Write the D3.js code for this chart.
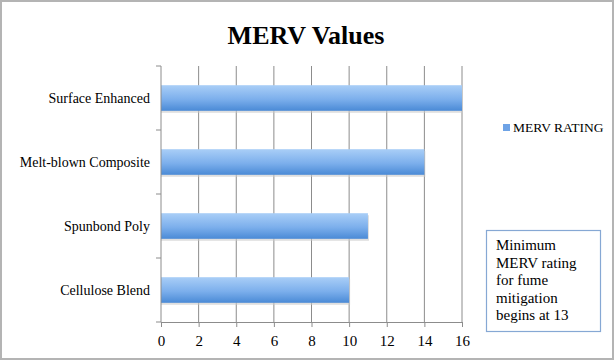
<!DOCTYPE html>
<html>
<head>
<meta charset="utf-8">
<script src="https://cdn.jsdelivr.net/npm/d3@7"></script>
<style>
  body { margin: 0; background: #fff; }
  svg { display: block; font-family: "Liberation Serif", "DejaVu Serif", serif; }
</style>
</head>
<body>
<svg width="614" height="360"></svg>
<script>
'use strict';

// chart data
var categories = ["Surface Enhanced", "Melt-blown Composite", "Spunbond Poly", "Cellulose Blend"];
var meritValues = [16, 14, 11, 10];
var xTicks = [0, 2, 4, 6, 8, 10, 12, 14, 16];
var seriesName = "MERV RATING";
var noteLines = ["Minimum", "MERV rating", "for fume", "mitigation", "begins at 13"];

var svg = d3.select("svg");
var W = +svg.attr("width"), H = +svg.attr("height");

var margin = {top: 66, right: 152, bottom: 38, left: 161};
var width = W - margin.left - margin.right;   // ~301
var height = H - margin.top - margin.bottom;  // ~256

// outer frame
svg.append("rect")
    .attr("x", 1).attr("y", 1)
    .attr("width", W - 2).attr("height", H - 2)
    .attr("fill", "#fff")
    .attr("stroke", "#b4b4b4")
    .attr("stroke-width", 2);

// gradient for the bars
var defs = svg.append("defs");
var grad = defs.append("linearGradient")
    .attr("id", "barGrad")
    .attr("x1", 0).attr("y1", 0).attr("x2", 0).attr("y2", 1);
grad.append("stop").attr("offset", "0%").attr("stop-color", "#a9cef7");
grad.append("stop").attr("offset", "55%").attr("stop-color", "#7cafec");
grad.append("stop").attr("offset", "100%").attr("stop-color", "#4a8ad6");

svg.append("text")
    .attr("x", 306).attr("y", 44)
    .attr("text-anchor", "middle")
    .attr("font-size", 26)
    .attr("font-weight", "bold")
    .attr("fill", "#000")
    .text("MERV Values");

var g = svg.append("g")
    .attr("transform", "translate(" + margin.left + "," + margin.top + ")");

var x = d3.scaleLinear().domain([0, 16]).range([0, width]);
var y = d3.scaleBand().domain(categories).range([0, height]).padding(0);

// vertical grid lines
g.selectAll(".grid")
    .data(xTicks.slice(1))
    .enter().append("line")
    .attr("class", "grid")
    .attr("x1", function(d) { return x(d); })
    .attr("x2", function(d) { return x(d); })
    .attr("y1", 0).attr("y2", height)
    .attr("stroke", "#8c8c8c")
    .attr("stroke-width", 1);

// bars (with a soft shadow underneath)
var barH = y.bandwidth() * 0.4;
g.selectAll(".shadow")
    .data(categories)
    .enter().append("rect")
    .attr("x", 0)
    .attr("y", function(d) { return y(d) + (y.bandwidth() - barH) / 2 + 2; })
    .attr("width", function(d, i) { return x(meritValues[i]) + 1; })
    .attr("height", barH)
    .attr("fill", "#c9c9c9")
    .attr("opacity", 0.6);

g.selectAll(".bar")
    .data(categories)
    .enter().append("rect")
    .attr("class", "bar")
    .attr("x", 0)
    .attr("y", function(d) { return y(d) + (y.bandwidth() - barH) / 2; })
    .attr("width", function(d, i) { return x(meritValues[i]); })
    .attr("height", barH)
    .attr("fill", "url(#barGrad)");

// x axis
var xAxis = d3.axisBottom(x).tickValues(xTicks).tickSize(5).tickPadding(8);
var xg = g.append("g")
    .attr("transform", "translate(0," + height + ")")
    .call(xAxis);
xg.select(".domain").attr("stroke", "#8c8c8c");
xg.selectAll(".tick line").attr("stroke", "#8c8c8c");
xg.selectAll("text")
    .attr("font-family", "Liberation Serif, serif")
    .attr("font-size", 15)
    .attr("fill", "#000");

// y axis: ticks between categories
var yg = g.append("g");
yg.append("line")
    .attr("x1", 0).attr("x2", 0).attr("y1", 0).attr("y2", height)
    .attr("stroke", "#8c8c8c");
var bounds = categories.map(function(d) { return y(d); }).concat([height]);
yg.selectAll(".ytick")
    .data(bounds)
    .enter().append("line")
    .attr("x1", -5).attr("x2", 0)
    .attr("y1", function(d) { return d; })
    .attr("y2", function(d) { return d; })
    .attr("stroke", "#8c8c8c");
yg.selectAll(".ylab")
    .data(categories)
    .enter().append("text")
    .attr("x", -11)
    .attr("y", function(d) { return y(d) + y.bandwidth() / 2; })
    .attr("dy", "0.35em")
    .attr("text-anchor", "end")
    .attr("font-size", 14)
    .attr("fill", "#000")
    .text(function(d) { return d; });

// legend
var leg = svg.append("g").attr("transform", "translate(503,124)");
leg.append("rect")
    .attr("width", 7).attr("height", 7)
    .attr("fill", "#6ea3e6");
leg.append("text")
    .attr("x", 10).attr("y", 8)
    .attr("font-size", 13.5)
    .attr("fill", "#000")
    .text(seriesName);

// note box
var note = svg.append("g").attr("transform", "translate(486,230)");
note.append("rect")
    .attr("x", 0.5).attr("y", 0.5)
    .attr("width", 114).attr("height", 101)
    .attr("fill", "#fff")
    .attr("stroke", "#86a8d4")
    .attr("stroke-width", 1.2);
note.selectAll("text")
    .data(noteLines)
    .enter().append("text")
    .attr("x", 10)
    .attr("y", function(d, i) { return 20 + i * 17.5; })
    .attr("font-size", 15)
    .attr("fill", "#000")
    .text(function(d) { return d; });
</script>
</body>
</html>
